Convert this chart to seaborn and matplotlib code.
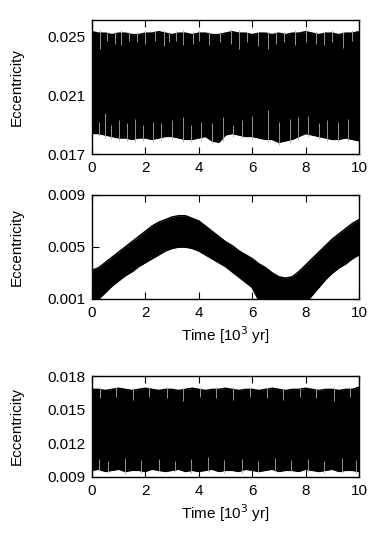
import matplotlib
matplotlib.use("Agg")
import numpy as np
import pandas as pd
import matplotlib.pyplot as plt
import seaborn as sns

sns.set_style("white")
plt.rcParams["font.family"] = ["Liberation Sans", "DejaVu Sans"]
plt.rcParams["font.size"] = 11
for k in ["text.color", "axes.labelcolor", "xtick.color", "ytick.color"]:
    plt.rcParams[k] = "black"

# time grid of the envelope readings [10^3 yr]
t_env = [0.0, 0.25, 0.5, 0.75, 1.0, 1.25, 1.5, 1.75, 2.0, 2.25, 2.5, 2.75,
         3.0, 3.25, 3.5, 3.75, 4.0, 4.25, 4.5, 4.75, 5.0, 5.25, 5.5, 5.75,
         6.0, 6.25, 6.5, 6.75, 7.0, 7.25, 7.5, 7.75, 8.0, 8.25, 8.5, 8.75,
         9.0, 9.25, 9.5, 9.75, 10.0]

# panel 1: max / min of the fast oscillation
upper1 = [0.0253, 0.0252, 0.0252, 0.0251, 0.0252, 0.0252, 0.0251, 0.0251, 0.0252, 0.0252,
          0.0253, 0.0252, 0.0251, 0.0252, 0.0252, 0.0251, 0.0252, 0.0252, 0.0251, 0.0251,
          0.0252, 0.0253, 0.0252, 0.0252, 0.0251, 0.0252, 0.0252, 0.0251, 0.0252, 0.0251,
          0.0252, 0.0252, 0.0253, 0.0252, 0.0251, 0.0252, 0.0252, 0.0251, 0.0252, 0.0252,
          0.0253]
lower1 = [0.0184, 0.0184, 0.0183, 0.0182, 0.0181, 0.0181, 0.0180, 0.0181, 0.0181, 0.0180,
          0.0181, 0.0182, 0.0182, 0.0181, 0.0180, 0.0180, 0.0181, 0.0182, 0.0179, 0.0178,
          0.0183, 0.0184, 0.0183, 0.0182, 0.0182, 0.0181, 0.0180, 0.0180, 0.0178, 0.0179,
          0.0180, 0.0182, 0.0184, 0.0183, 0.0182, 0.0181, 0.0180, 0.0180, 0.0181, 0.0180,
          0.0179]
# single low maxima / high minima (light spikes into the band)
top_spike_t1 = [0.3, 0.55, 0.85, 1.1, 1.4, 1.7, 2.0, 2.35, 2.7, 2.9, 3.15, 3.4, 3.8, 4.0,
                4.4, 4.8, 5.2, 5.5, 5.8, 6.2, 6.6, 6.9, 7.2, 7.6, 8.0, 8.4, 8.7, 9.0,
                9.4, 9.75]
top_spike_e1 = [0.0241, 0.0247, 0.0245, 0.0244, 0.0247, 0.0246, 0.0245, 0.0247, 0.0243,
                0.0246, 0.0247, 0.0244, 0.0245, 0.0247, 0.0244, 0.0246, 0.0245, 0.0241,
                0.0246, 0.0243, 0.0241, 0.0245, 0.0246, 0.0244, 0.0246, 0.0245, 0.0244,
                0.0246, 0.0242, 0.0247]
bot_spike_t1 = [0.25, 0.5, 0.7, 1.0, 1.3, 1.6, 1.9, 2.3, 2.6, 3.0, 3.4, 3.7, 4.1, 4.5,
                4.9, 5.3, 5.6, 6.0, 6.6, 7.0, 7.4, 7.7, 8.1, 8.5, 8.8, 9.2, 9.6]
bot_spike_e1 = [0.0192, 0.0198, 0.0190, 0.0193, 0.0191, 0.0194, 0.0190, 0.0192, 0.0191,
                0.0193, 0.0195, 0.0190, 0.0192, 0.0191, 0.0195, 0.0190, 0.0193, 0.0196,
                0.0200, 0.0192, 0.0194, 0.0195, 0.0196, 0.0191, 0.0193, 0.0192, 0.0194]

# panel 2: slowly modulated band
upper2 = [0.0032, 0.0034, 0.0038, 0.0042, 0.0046, 0.0050, 0.0054, 0.0058, 0.0062, 0.0066,
          0.0069, 0.0071, 0.0073, 0.0074, 0.0074, 0.0072, 0.0070, 0.0066, 0.0062, 0.0058,
          0.0054, 0.0051, 0.0047, 0.0044, 0.0041, 0.0037, 0.0034, 0.0030, 0.0027, 0.0026,
          0.0027, 0.0031, 0.0036, 0.0041, 0.0046, 0.0051, 0.0056, 0.0060, 0.0064, 0.0068,
          0.0071]
lower2 = [0.0008, 0.0010, 0.0015, 0.0020, 0.0024, 0.0028, 0.0031, 0.0035, 0.0038, 0.0041,
          0.0044, 0.0047, 0.0049, 0.0050, 0.0050, 0.0049, 0.0047, 0.0044, 0.0041, 0.0038,
          0.0035, 0.0031, 0.0027, 0.0023, 0.0019, 0.0009, 0.0005, 0.0005, 0.0005, 0.0005,
          0.0005, 0.0005, 0.0007, 0.0013, 0.0019, 0.0025, 0.0030, 0.0034, 0.0037, 0.0041,
          0.0044]

# panel 3
upper3 = [0.0168, 0.0168, 0.0167, 0.0168, 0.0169, 0.0168, 0.0167, 0.0168, 0.0169, 0.0168,
          0.0167, 0.0168, 0.0168, 0.0167, 0.0168, 0.0169, 0.0168, 0.0167, 0.0168, 0.0168,
          0.0169, 0.0168, 0.0167, 0.0168, 0.0168, 0.0167, 0.0168, 0.0169, 0.0168, 0.0167,
          0.0168, 0.0168, 0.0169, 0.0168, 0.0167, 0.0168, 0.0168, 0.0167, 0.0168, 0.0168,
          0.0170]
lower3 = [0.0096, 0.0097, 0.0095, 0.0096, 0.0097, 0.0095, 0.0096, 0.0096, 0.0095, 0.0097,
          0.0096, 0.0095, 0.0096, 0.0097, 0.0095, 0.0096, 0.0095, 0.0096, 0.0097, 0.0095,
          0.0096, 0.0096, 0.0095, 0.0097, 0.0096, 0.0095, 0.0096, 0.0097, 0.0095, 0.0096,
          0.0096, 0.0095, 0.0097, 0.0096, 0.0095, 0.0096, 0.0097, 0.0095, 0.0096, 0.0096,
          0.0095]
top_spike_t3 = [0.3, 0.9, 1.55, 2.15, 2.8, 3.4, 4.05, 4.65, 5.3, 5.9, 6.55, 7.15, 7.8,
                8.4, 9.05, 9.65]
top_spike_e3 = [0.0160, 0.0161, 0.0159, 0.0161, 0.0160, 0.0158, 0.0161, 0.0160, 0.0159,
                0.0161, 0.0160, 0.0159, 0.0161, 0.0160, 0.0158, 0.0161]
bot_spike_t3 = [0.25, 0.6, 1.25, 1.85, 2.5, 3.1, 3.7, 4.35, 4.95, 5.6, 6.2, 6.85, 7.45,
                8.1, 8.7, 9.35, 9.9]
bot_spike_e3 = [0.0106, 0.0104, 0.0107, 0.0105, 0.0106, 0.0104, 0.0106, 0.0108, 0.0105,
                0.0106, 0.0104, 0.0107, 0.0105, 0.0106, 0.0104, 0.0107, 0.0105]

xticks = [0, 2, 4, 6, 8, 10]
ylims = [(0.017, 0.0261), (0.001, 0.009), (0.009, 0.018)]
yticks = [[0.017, 0.021, 0.025], [0.001, 0.005, 0.009], [0.009, 0.012, 0.015, 0.018]]

fig = plt.figure(figsize=(3.86, 5.4), dpi=100)
ax1 = fig.add_axes([0.2383, 0.7148, 0.6917, 0.2482])
ax2 = fig.add_axes([0.2383, 0.4463, 0.6917, 0.1926])
ax3 = fig.add_axes([0.2383, 0.1167, 0.6917, 0.1870])

panels = [
    (ax1, upper1, lower1, top_spike_t1, top_spike_e1, bot_spike_t1, bot_spike_e1),
    (ax2, upper2, lower2, [], [], [], []),
    (ax3, upper3, lower3, top_spike_t3, top_spike_e3, bot_spike_t3, bot_spike_e3),
]

for i, (ax, up, lo, tt, te, bt, be) in enumerate(panels):
    df = pd.DataFrame({"t": t_env, "up": up, "lo": lo})
    ax.fill_between(df["t"], df["lo"], df["up"], color="black", lw=0)
    sns.lineplot(data=df, x="t", y="up", ax=ax, color="black", lw=1.2)
    sns.lineplot(data=df, x="t", y="lo", ax=ax, color="black", lw=1.2)
    # light dips into the band
    if len(tt):
        up_at = np.interp(tt, t_env, up)
        lo_at = np.interp(bt, t_env, lo)
        ax.vlines(tt, te, up_at + 0.0002, color="#aaaaaa", lw=0.6)
        ax.vlines(bt, lo_at - 0.0002, be, color="#aaaaaa", lw=0.6)

    ax.set_xlim(0, 10)
    ax.set_ylim(*ylims[i])
    ax.set_xticks(xticks)
    ax.set_xticklabels([str(v) for v in xticks])
    ax.set_yticks(yticks[i])
    ax.set_yticklabels([f"{v:.3f}" for v in yticks[i]])
    ax.tick_params(direction="in", length=5, width=0.8, bottom=True, left=True,
                   top=True, right=True, labelsize=11, pad=5, colors="black")
    for s in ax.spines.values():
        s.set_linewidth(1.0)
        s.set_color("black")
        s.set_zorder(5)
    ax.set_ylabel("Eccentricity", fontsize=11)
    ax.yaxis.set_label_coords(-0.255, 0.5)
    ax.set_xlabel("")

ax2.set_xlabel("Time [10$^3$ yr]", fontsize=11, labelpad=3)
ax3.set_xlabel("Time [10$^3$ yr]", fontsize=11, labelpad=3)

fig.savefig("out.png", dpi=100)
